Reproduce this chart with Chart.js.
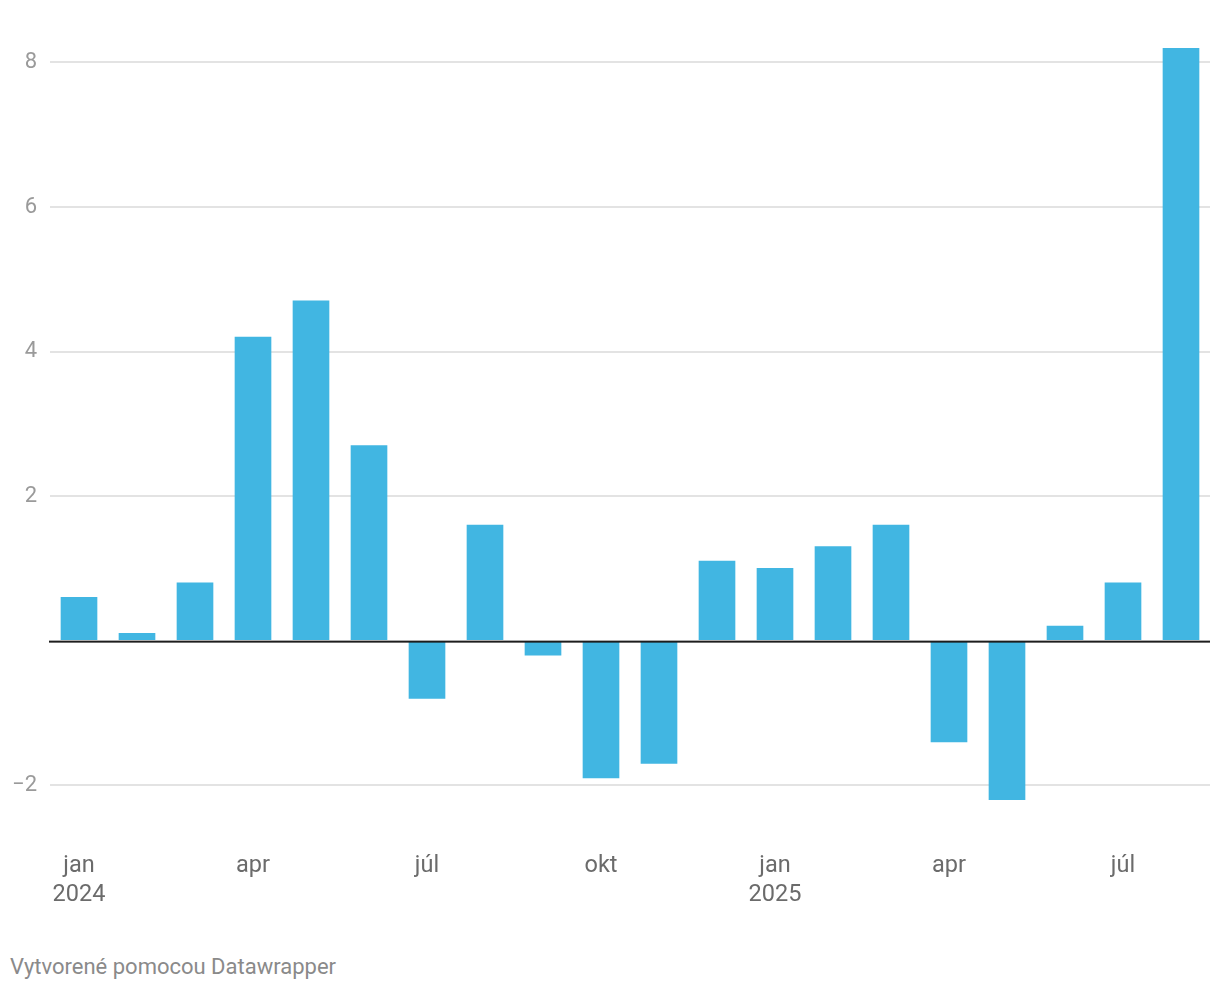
<!DOCTYPE html>
<html>
<head>
<meta charset="utf-8">
<script src="https://cdn.jsdelivr.net/npm/chart.js@4/dist/chart.umd.min.js"></script>
<style>
  html, body { margin: 0; padding: 0; background: #fff; }
  #wrap { position: relative; width: 1220px; height: 990px; }
  #c { position: absolute; left: 0; top: 0; }
  #footer { position: absolute; left: 10px; top: 954px; font-family: Roboto, sans-serif; font-size: 22px; color: #8a8a8a; }
</style>
</head>
<body>
<div id="wrap">
  <canvas id="c" width="1220" height="920"></canvas>
  <div id="footer">Vytvorené pomocou Datawrapper</div>
</div>
<script>
const months = ['jan 2024','feb 2024','mar 2024','apr 2024','máj 2024','jún 2024','júl 2024','aug 2024','sep 2024','okt 2024','nov 2024','dec 2024',
                'jan 2025','feb 2025','mar 2025','apr 2025','máj 2025','jún 2025','júl 2025','aug 2025'];
const values = [0.6, 0.1, 0.8, 4.2, 4.7, 2.7, -0.8, 1.6, -0.2, -1.9, -1.7, 1.1,
                1.0, 1.3, 1.6, -1.4, -2.2, 0.2, 0.8, 8.2];
const xTickLabels = [['jan','2024'],'','','apr','','','júl','','','okt','','',
                     ['jan','2025'],'','','apr','','','júl',''];
const yTicks = [-2, 0, 2, 4, 6, 8];
const yMin = -2.8, yMax = 8.2;

const zeroLine = {
  id: 'zeroLine',
  afterDatasetsDraw(chart) {
    const y = chart.scales.y.getPixelForValue(0);
    const ctx = chart.ctx;
    ctx.save();
    ctx.fillStyle = '#1d1d1d';
    ctx.fillRect(chart.chartArea.left - 1, y, chart.chartArea.right - chart.chartArea.left + 1, 2);
    ctx.restore();
  }
};

new Chart(document.getElementById('c'), {
  type: 'bar',
  data: {
    labels: months,
    datasets: [{
      data: values,
      backgroundColor: '#41b6e2',
      barThickness: 36,
      borderWidth: 0
    }]
  },
  options: {
    responsive: false,
    animation: false,
    devicePixelRatio: 1,
    layout: { padding: { top: 48, right: 10, bottom: 7, left: 0 } },
    plugins: { legend: { display: false }, tooltip: { enabled: false } },
    scales: {
      x: {
        grid: { display: false },
        border: { display: false },
        afterFit(scale) { scale.height = 70; },
        ticks: {
          autoSkip: false,
          maxRotation: 0,
          padding: 0,
          color: '#6b6b6b',
          font: { family: 'Roboto', size: 23.5, lineHeight: 1.25 },
          callback: (v, i) => xTickLabels[i]
        }
      },
      y: {
        min: yMin,
        max: yMax,
        afterFit(scale) { scale.width = 50; },
        afterBuildTicks(scale) { scale.ticks = yTicks.map(v => ({ value: v })); },
        border: { display: false },
        grid: {
          drawTicks: false,
          color: ctx => ctx.tick && ctx.tick.value === 0 ? 'rgba(0,0,0,0)' : '#e3e3e3',
          lineWidth: 2
        },
        ticks: {
          padding: 13,
          color: '#9a9a9a',
          font: { family: 'Roboto', size: 22 },
          callback: v => v === 0 ? '' : (v < 0 ? '\u2212' + Math.abs(v) : String(v))
        }
      }
    }
  },
  plugins: [zeroLine]
});
</script>
</body>
</html>
